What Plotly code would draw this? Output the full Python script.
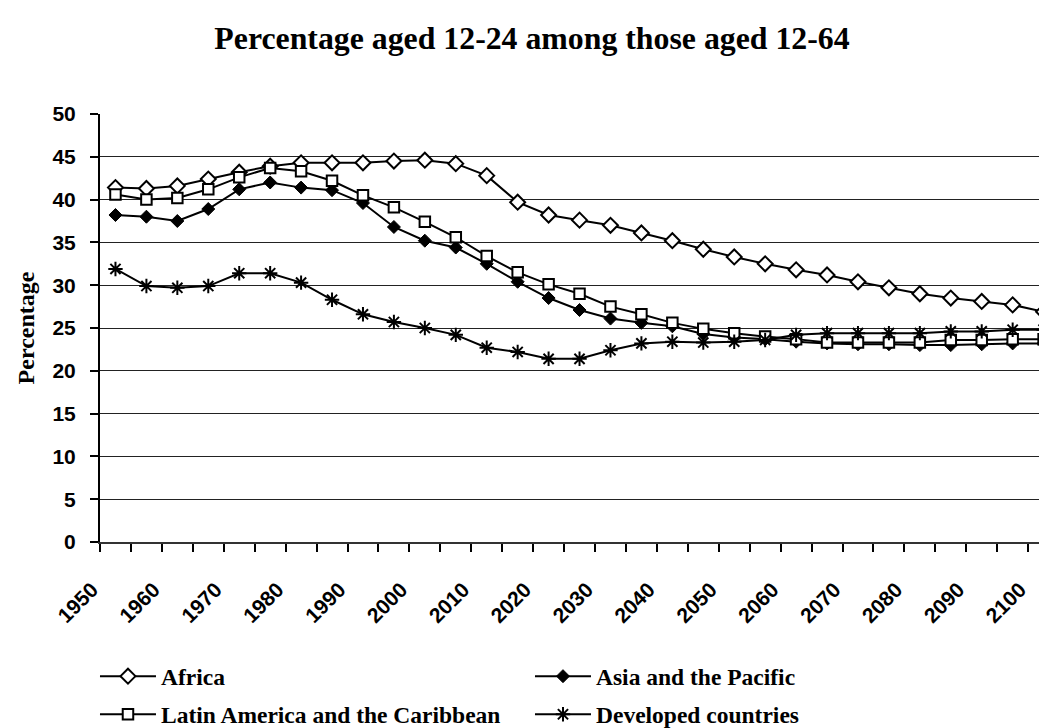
import plotly.graph_objects as go

years = [1950, 1955, 1960, 1965, 1970, 1975, 1980, 1985, 1990, 1995, 2000,
         2005, 2010, 2015, 2020, 2025, 2030, 2035, 2040, 2045, 2050,
         2055, 2060, 2065, 2070, 2075, 2080, 2085, 2090, 2095, 2100]

africa = [41.4, 41.3, 41.6, 42.4, 43.2, 43.9, 44.3, 44.3, 44.3, 44.5, 44.6,
          44.2, 42.8, 39.7, 38.2, 37.6, 37.0, 36.1, 35.2, 34.2, 33.3,
          32.5, 31.8, 31.2, 30.4, 29.7, 29.0, 28.5, 28.1, 27.7, 26.9]

asia = [38.2, 38.0, 37.5, 38.9, 41.2, 42.0, 41.4, 41.1, 39.6, 36.8, 35.2,
        34.4, 32.5, 30.4, 28.5, 27.1, 26.1, 25.6, 25.2, 24.3, 23.9,
        23.7, 23.4, 23.2, 23.1, 23.1, 23.0, 23.0, 23.1, 23.2, 23.2]

latin = [40.6, 40.0, 40.2, 41.2, 42.6, 43.7, 43.3, 42.2, 40.5, 39.1, 37.4,
         35.6, 33.4, 31.5, 30.1, 29.0, 27.5, 26.6, 25.6, 24.9, 24.4,
         24.0, 23.7, 23.3, 23.3, 23.3, 23.3, 23.6, 23.6, 23.7, 23.7]

developed = [31.9, 29.9, 29.7, 29.9, 31.4, 31.4, 30.3, 28.3, 26.6, 25.7, 25.0,
             24.2, 22.7, 22.2, 21.4, 21.4, 22.4, 23.2, 23.4, 23.3, 23.4,
             23.6, 24.2, 24.4, 24.4, 24.4, 24.4, 24.6, 24.6, 24.8, 24.8]

series_names = ["Africa", "Asia and the Pacific",
                "Latin America and the Caribbean", "Developed countries"]

tick_labels = ["1950", "1960", "1970", "1980", "1990", "2000", "2010", "2020",
               "2030", "2040", "2050", "2060", "2070", "2080", "2090", "2100"]

y_ticks = [0, 5, 10, 15, 20, 25, 30, 35, 40, 45, 50]

# category width is 5 years; ticks sit on category boundaries
half = 2.5
tick_positions = [int(t) - half for t in tick_labels]

serif = "Liberation Serif, Times New Roman, serif"
sans = "Liberation Sans, Arial, sans-serif"

fig = go.Figure()

styles = [
    dict(symbol="diamond", size=11.5, color="white", lw=2, legend="legend"),
    dict(symbol="diamond", size=10, color="black", lw=1, legend="legend"),
    dict(symbol="square", size=10.5, color="white", lw=2, legend="legend2"),
    dict(symbol="asterisk-open", size=12, color="black", lw=2, legend="legend2"),
]
for name, vals, st in zip(series_names, [africa, asia, latin, developed], styles):
    fig.add_trace(go.Scatter(
        x=years, y=vals, name=name, mode="lines+markers",
        line=dict(color="black", width=2),
        marker=dict(symbol=st["symbol"], size=st["size"], color=st["color"],
                    line=dict(color="black", width=st["lw"])),
        legend=st["legend"], cliponaxis=False,
    ))

legend_common = dict(orientation="h", x=-0.0053, xanchor="left", yanchor="middle",
                     xref="paper", yref="paper",
                     font=dict(family=serif, size=23.5, color="black", weight="bold"),
                     entrywidth=364, itemwidth=56, bgcolor="rgba(0,0,0,0)")

W, H = 1039, 720  # page body adds an 8px margin on the left and top

fig.update_layout(
    width=W, height=H,
    paper_bgcolor="white", plot_bgcolor="white",
    margin=dict(l=92, r=0, t=106, b=186, autoexpand=False),
    title=dict(text="<b>Percentage aged 12-24 among those aged 12-64</b>",
               font=dict(family=serif, size=31.8, color="black"),
               x=524 / W, xanchor="center", xref="container",
               y=1 - 30 / H, yanchor="middle", yref="container"),
    showlegend=True,
    legend=dict(y=-0.314, **legend_common),
    legend2=dict(y=-0.403, **legend_common),
)

fig.update_xaxes(
    range=[years[0] - half, 2100.55],
    tickmode="array", tickvals=tick_positions,
    ticktext=["<b>%s</b>" % t for t in tick_labels],
    tickangle=-45, ticks="outside", ticklen=8, tickwidth=1.5, tickcolor="black",
    tickfont=dict(family=sans, size=21, color="black"),
    minor=dict(tickmode="linear", tick0=years[0] - half, dtick=5,
               ticks="outside", ticklen=8, tickwidth=1.5, tickcolor="black",
               showgrid=False),
    showline=True, linecolor="#333", linewidth=2,
    showgrid=False, zeroline=False, automargin=False,
    ticklabelstandoff=17, ticklabelshift=-8,
)

fig.update_yaxes(
    range=[0, 50], tickmode="array", tickvals=y_ticks,
    ticktext=["<b>%d</b>" % v for v in y_ticks],
    ticks="outside", ticklen=8, tickwidth=1.5, tickcolor="black",
    tickfont=dict(family=sans, size=21, color="black"),
    showline=True, linecolor="black", linewidth=2,
    showgrid=True, gridcolor="#222", gridwidth=1, zeroline=False,
    automargin=False, ticklabelstandoff=10,
    title=dict(text="<b>Percentage</b>",
               font=dict(family=serif, size=24, color="black"), standoff=11),
)

fig.write_html("out.html")
